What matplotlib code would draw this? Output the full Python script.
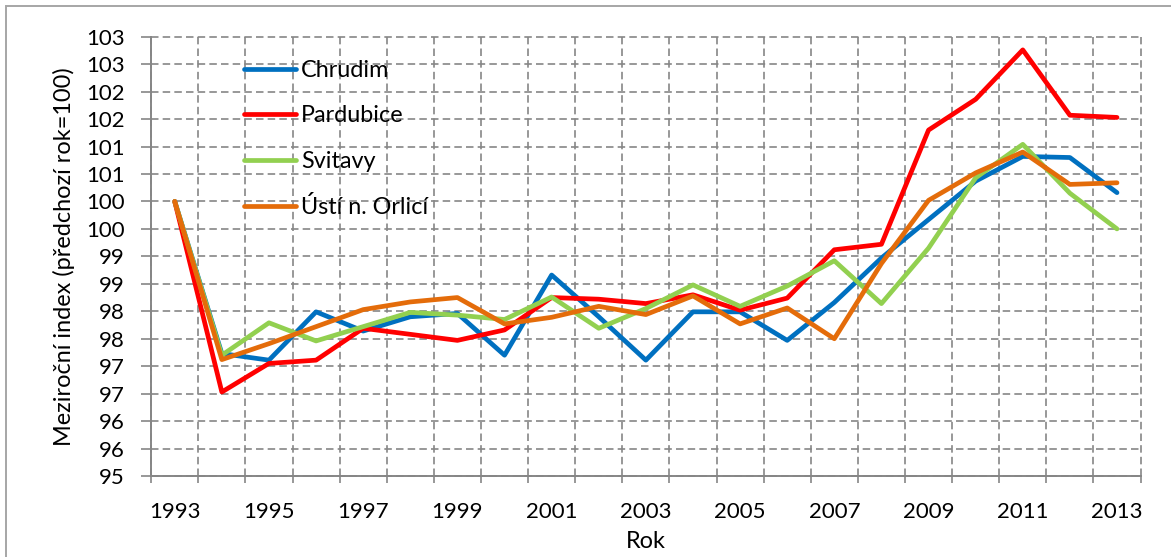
import numpy as np
import matplotlib
matplotlib.use('Agg')
import matplotlib.pyplot as plt
from matplotlib.patches import Rectangle

# roky (kategorie na ose x)
years = list(range(1993, 2014))

# meziroční index podle okresů
chrudim = [100.00, 97.23, 97.11, 97.99, 97.64, 97.90, 97.96, 97.20, 98.66, 97.90, 97.11,
           97.99, 97.99, 97.47, 98.16, 98.97, 99.67, 100.37, 100.82, 100.80, 100.16]
pardubice = [100.00, 96.53, 97.05, 97.11, 97.69, 97.58, 97.47, 97.66, 98.25, 98.22, 98.14,
             98.30, 98.02, 98.24, 99.12, 99.22, 101.30, 101.86, 102.76, 101.57, 101.53]
svitavy = [100.00, 97.20, 97.79, 97.46, 97.72, 97.98, 97.93, 97.85, 98.26, 97.69, 98.05,
           98.48, 98.09, 98.46, 98.92, 98.14, 99.15, 100.43, 101.04, 100.15, 99.50]
usti = [100.00, 97.12, 97.41, 97.72, 98.03, 98.17, 98.25, 97.77, 97.89, 98.09, 97.94,
        98.28, 97.77, 98.06, 97.50, 98.87, 100.02, 100.52, 100.90, 100.31, 100.34]

series_names = ['Chrudim', 'Pardubice', 'Svitavy', 'Ústí n. Orlicí']
series_colors = ['#0070C0', '#FF0000', '#92D050', '#E46C0A']

# popisky osy y jsou zaokrouhlené na celá čísla (krok 0.5)
y_ticks = np.arange(95, 103.01, 0.5)
y_tick_labels = ['95', '96', '96', '97', '97', '98', '98', '99', '99',
                 '100', '100', '101', '101', '102', '102', '103', '103']
x_tick_labels = [str(y) for y in years[::2]]
y_title = 'Meziroční index (předchozí rok=100)'

plt.rcParams['font.family'] = ['Lato', 'DejaVu Sans']
grid_col = '#868686'

fig = plt.figure(figsize=(11.71, 5.57), dpi=100)
renderer = fig.canvas.get_renderer()


def fit_size(text, width_px, base=10.0):
    # velikost písma tak, aby text měl zhruba danou šířku v pixelech
    t = fig.text(0, 0, text, fontsize=base)
    w = t.get_window_extent(renderer=renderer).width
    t.remove()
    return base * width_px / w


tick_fs = fit_size('2013', 51.7)
legend_fs = fit_size('Ústí n. Orlicí', 126)
title_fs = fit_size(y_title, 380)
legend_px = legend_fs * 100 / 72

ax = fig.add_axes([0.1291, 0.1454, 0.8449, 0.7887])

x = np.arange(len(years))
data = [chrudim, pardubice, svitavy, usti]
for i, (name, vals, col) in enumerate(zip(series_names, data, series_colors)):
    ax.plot(x, vals, color=col, lw=3.4, label=name, zorder=3 + i,
            solid_capstyle='round', solid_joinstyle='round')

ax.set_xlim(-0.5, len(years) - 0.5)
ax.set_ylim(95, 103)

# hlavní značky na hranicích kategorií, popisky na každé druhé kategorii
ax.set_xticks(np.arange(-0.5, len(years)))
ax.set_xticklabels([])
ax.set_xticks(x[::2], minor=True)
ax.set_xticklabels(x_tick_labels, minor=True)
ax.tick_params(axis='x', which='major', length=5.3, width=1.2, color=grid_col, direction='out')
ax.tick_params(axis='x', which='minor', length=0, pad=18.5, labelsize=tick_fs)

ax.set_yticks(y_ticks)
ax.set_yticklabels(y_tick_labels)
ax.tick_params(axis='y', length=7.2, width=1.2, color=grid_col, pad=12, labelsize=tick_fs)

ax.set_axisbelow(True)
ax.grid(True, which='major', color=grid_col, lw=1.2, linestyle=(0, (4.5, 2.5)))
for gl in ax.get_xgridlines() + ax.get_ygridlines():
    gl.set_clip_on(False)

for side in ['top', 'right']:
    ax.spines[side].set_visible(False)
for side in ['left', 'bottom']:
    ax.spines[side].set_color(grid_col)
    ax.spines[side].set_linewidth(1.4)

ax.set_ylabel(y_title, fontsize=title_fs, labelpad=8)
ax.set_xlabel('Rok', fontsize=title_fs, labelpad=7)

ax.legend(loc='upper left', bbox_to_anchor=(0.0936, 0.947), frameon=False,
          fontsize=legend_fs, handlelength=52 / legend_px, handletextpad=5 / legend_px,
          labelspacing=1.05, borderpad=0, borderaxespad=0)

# rámeček grafu
fig.add_artist(Rectangle((6 / 1171, -0.1), 1.2, 1.1 - 6 / 557, transform=fig.transFigure,
                         fill=False, ec='#A6A6A6', lw=1.4))

fig.savefig('out.png', dpi=100, facecolor='white')
